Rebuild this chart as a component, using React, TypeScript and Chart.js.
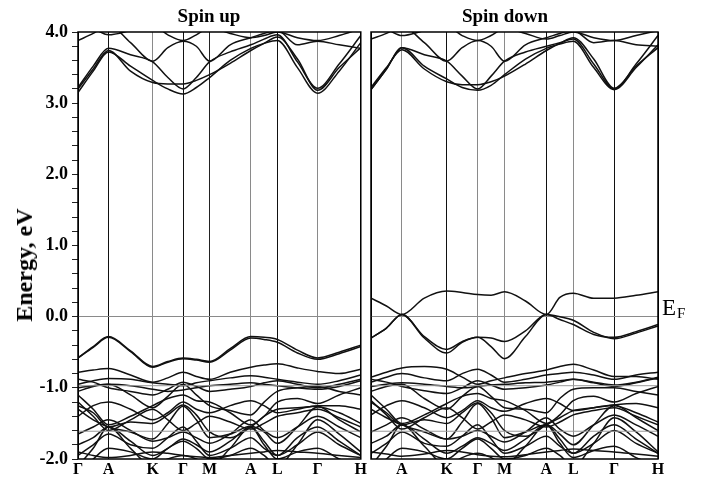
import React, { useEffect, useRef } from 'react';
import { Chart, registerables } from 'chart.js';
Chart.register(...registerables);

// k-path sample positions (path length units) and high-symmetry points
const K_SAMPLES = [0, 15.5, 31, 53.5, 76, 91.5, 107, 120.5, 134, 155, 176, 189.5, 203, 223.5, 244, 266, 288];
const K_POINTS = [0, 31, 76, 107, 134, 176, 203, 244, 288];
const LABELS_UP = ['Γ', 'A', 'K', 'Γ', 'M', 'A', 'L', 'Γ', 'H'];
const LABELS_DOWN = ['', 'A', 'K', 'Γ', 'M', 'A', 'L', 'Γ', 'H'];

// Spin up: conduction bands (eV)
const upC1 = [3.15, 3.45, 3.72, 3.52, 3.32, 3.20, 3.13, 3.22, 3.36, 3.60, 3.77, 3.84, 3.88, 3.50, 3.14, 3.45, 3.85];
const upC2 = [3.22, 3.52, 3.77, 3.68, 3.58, 3.36, 3.20, 3.36, 3.58, 3.72, 3.82, 3.90, 3.96, 3.58, 3.21, 3.55, 3.95];
const upC3 = [3.88, 3.98, 4.10, 3.85, 3.59, 3.78, 3.87, 3.80, 3.59, 3.82, 3.92, 3.98, 4.02, 3.82, 3.87, 3.82, 3.77];
const upC4 = [3.20, 3.48, 3.74, 3.45, 3.29, 3.27, 3.27, 3.32, 3.40, 3.56, 3.74, 3.84, 3.93, 3.62, 3.18, 3.50, 3.78];
const upC5 = [4.12, 4.05, 3.96, 4.02, 4.10, 3.96, 3.88, 3.96, 4.06, 3.98, 3.92, 3.95, 4.00, 3.92, 3.88, 3.95, 4.05];
// Spin up: valence bands (eV)
const upV1 = [-0.58, -0.42, -0.28, -0.48, -0.70, -0.63, -0.58, -0.60, -0.63, -0.45, -0.28, -0.29, -0.32, -0.47, -0.58, -0.50, -0.40];
const upV2 = [-0.58, -0.43, -0.29, -0.49, -0.71, -0.64, -0.59, -0.61, -0.64, -0.47, -0.30, -0.32, -0.36, -0.51, -0.60, -0.52, -0.42];
const upV3 = [-0.78, -0.75, -0.73, -0.82, -0.92, -0.86, -0.78, -0.84, -0.88, -0.78, -0.71, -0.68, -0.66, -0.72, -0.77, -0.80, -0.74];
const upV4 = [-0.95, -0.90, -0.87, -0.88, -0.93, -0.95, -0.97, -0.93, -0.90, -0.86, -0.83, -0.85, -0.88, -0.92, -0.95, -0.90, -0.82];
const upV5 = [-1.00, -0.97, -0.95, -0.97, -1.02, -1.05, -1.03, -1.00, -0.97, -0.95, -0.93, -0.95, -0.97, -1.00, -1.02, -0.98, -0.90];
const upV6 = [-1.05, -0.98, -0.95, -1.10, -1.28, -1.12, -0.95, -1.10, -1.25, -1.32, -1.38, -1.20, -1.05, -1.00, -0.98, -1.05, -1.10];
const upV7 = [-1.10, -1.30, -1.52, -1.40, -1.25, -1.15, -1.10, -1.18, -1.20, -1.35, -1.52, -1.40, -1.20, -1.15, -1.22, -1.10, -1.00];
const upV8 = [-1.40, -1.25, -1.20, -1.30, -1.45, -1.35, -1.20, -1.30, -1.35, -1.25, -1.18, -1.25, -1.35, -1.30, -1.25, -1.25, -1.30];
const upV9 = [-1.25, -1.35, -1.55, -1.48, -1.50, -1.38, -1.24, -1.38, -1.62, -1.70, -1.55, -1.40, -1.30, -1.28, -1.26, -1.45, -1.62];
const upV10 = [-1.30, -1.45, -1.55, -1.62, -1.72, -1.50, -1.26, -1.45, -1.70, -1.65, -1.54, -1.62, -1.78, -1.55, -1.27, -1.35, -1.50];
const upV11 = [-1.80, -1.70, -1.55, -1.75, -1.95, -1.85, -1.72, -1.80, -1.90, -1.75, -1.55, -1.75, -1.95, -1.80, -1.62, -1.80, -1.95];
const upV12 = [-2.10, -1.85, -1.55, -1.85, -2.10, -2.00, -1.95, -2.00, -2.10, -1.85, -1.55, -1.80, -2.00, -1.90, -1.85, -2.00, -2.10];
const upV13 = [-1.90, -1.95, -1.98, -1.95, -1.90, -1.92, -1.95, -1.97, -1.98, -1.95, -1.92, -1.90, -1.88, -1.90, -1.92, -1.95, -1.98];
const upV14 = [-2.20, -2.00, -1.85, -1.90, -2.00, -1.85, -1.75, -1.85, -2.00, -1.95, -1.85, -1.95, -2.10, -1.80, -1.45, -1.65, -1.90];
const upV15 = [-1.20, -1.40, -1.60, -1.45, -1.30, -1.45, -1.60, -1.50, -1.40, -1.48, -1.58, -1.50, -1.40, -1.35, -1.30, -1.42, -1.55];
const upV16 = [-1.65, -1.55, -1.45, -1.60, -1.75, -1.70, -1.62, -1.70, -1.78, -1.65, -1.45, -1.60, -1.70, -1.55, -1.40, -1.55, -1.70];
const upV17 = [-1.95, -1.80, -1.65, -1.80, -1.85, -1.70, -1.55, -1.75, -1.95, -1.85, -1.70, -1.85, -1.95, -1.70, -1.55, -1.75, -1.95];
const upV18 = [-0.88, -0.92, -1.00, -1.05, -1.10, -1.02, -0.92, -0.98, -1.05, -1.02, -0.98, -0.93, -0.90, -0.95, -1.00, -0.95, -0.88];

// Spin down: conduction bands (eV)
const dnC1 = [3.19, 3.48, 3.78, 3.52, 3.34, 3.22, 3.18, 3.25, 3.40, 3.62, 3.77, 3.83, 3.87, 3.50, 3.19, 3.50, 3.82];
const dnC2 = [3.19, 3.48, 3.78, 3.68, 3.59, 3.38, 3.20, 3.38, 3.59, 3.72, 3.80, 3.85, 3.90, 3.55, 3.20, 3.55, 3.95];
const dnC3 = [3.90, 3.98, 4.08, 3.85, 3.59, 3.78, 3.88, 3.80, 3.59, 3.82, 3.92, 3.98, 4.02, 3.85, 3.88, 3.82, 3.80];
const dnC4 = [3.22, 3.50, 3.75, 3.48, 3.30, 3.26, 3.26, 3.30, 3.38, 3.55, 3.74, 3.84, 3.92, 3.62, 3.21, 3.52, 3.78];
const dnC5 = [4.10, 4.04, 3.95, 4.02, 4.08, 3.95, 3.88, 3.95, 4.05, 3.98, 3.90, 3.95, 4.00, 3.92, 3.88, 3.95, 4.02];
// Spin down: valence bands (eV)
const dnV1 = [0.26, 0.15, 0.03, 0.26, 0.36, 0.34, 0.31, 0.30, 0.35, 0.22, 0.03, 0.27, 0.33, 0.26, 0.26, 0.30, 0.35];
const dnV2 = [-0.30, -0.16, 0.03, -0.28, -0.46, -0.35, -0.29, -0.42, -0.59, -0.28, 0.03, -0.04, -0.11, -0.25, -0.29, -0.21, -0.11];
const dnV3 = [-0.30, -0.16, 0.03, -0.30, -0.51, -0.36, -0.29, -0.30, -0.35, -0.20, 0.03, 0.00, -0.05, -0.22, -0.31, -0.23, -0.13];
const dnV4 = [-0.85, -0.78, -0.72, -0.70, -0.74, -0.85, -0.95, -0.90, -0.86, -0.80, -0.75, -0.70, -0.67, -0.75, -0.84, -0.84, -0.88];
const dnV5 = [-0.92, -0.85, -0.80, -0.86, -0.90, -0.80, -0.74, -0.82, -0.92, -0.88, -0.82, -0.80, -0.78, -0.82, -0.88, -0.82, -0.78];
const dnV6 = [-0.98, -0.95, -0.93, -0.95, -0.98, -1.00, -0.98, -0.96, -0.95, -0.93, -0.92, -0.90, -0.88, -0.92, -0.96, -0.92, -0.85];
const dnV7 = [-1.05, -0.98, -0.95, -1.15, -1.30, -1.12, -0.98, -1.12, -1.28, -1.30, -1.35, -1.15, -1.02, -1.00, -1.00, -1.05, -1.10];
const dnV8 = [-1.20, -1.35, -1.52, -1.45, -1.50, -1.35, -1.21, -1.35, -1.60, -1.68, -1.52, -1.42, -1.32, -1.28, -1.24, -1.42, -1.60];
const dnV9 = [-1.30, -1.42, -1.52, -1.62, -1.72, -1.48, -1.22, -1.42, -1.70, -1.62, -1.52, -1.65, -1.80, -1.52, -1.25, -1.35, -1.48];
const dnV10 = [-1.10, -1.30, -1.50, -1.38, -1.22, -1.12, -1.08, -1.15, -1.18, -1.32, -1.50, -1.38, -1.18, -1.12, -1.20, -1.08, -0.98];
const dnV11 = [-1.38, -1.25, -1.18, -1.28, -1.42, -1.32, -1.18, -1.28, -1.33, -1.22, -1.15, -1.22, -1.32, -1.28, -1.24, -1.22, -1.28];
const dnV12 = [-1.78, -1.68, -1.52, -1.72, -1.92, -1.82, -1.70, -1.78, -1.88, -1.72, -1.52, -1.72, -1.92, -1.78, -1.60, -1.78, -1.92];
const dnV13 = [-2.10, -1.82, -1.52, -1.82, -2.10, -1.98, -1.92, -1.98, -2.08, -1.82, -1.52, -1.78, -1.98, -1.88, -1.82, -1.98, -2.10];
const dnV14 = [-1.90, -1.93, -1.96, -1.93, -1.88, -1.90, -1.94, -1.96, -1.97, -1.94, -1.90, -1.88, -1.86, -1.88, -1.90, -1.93, -1.96];
const dnV15 = [-2.20, -2.00, -1.85, -1.90, -2.00, -1.85, -1.72, -1.85, -2.00, -1.95, -1.85, -1.95, -2.10, -1.78, -1.42, -1.62, -1.90];
const dnV16 = [-1.18, -1.38, -1.58, -1.42, -1.28, -1.42, -1.58, -1.48, -1.38, -1.45, -1.55, -1.48, -1.38, -1.32, -1.28, -1.40, -1.52];
const dnV17 = [-1.62, -1.52, -1.42, -1.58, -1.72, -1.68, -1.60, -1.68, -1.76, -1.62, -1.42, -1.58, -1.68, -1.52, -1.38, -1.52, -1.68];
const dnV18 = [-1.92, -1.78, -1.62, -1.78, -1.82, -1.68, -1.52, -1.72, -1.92, -1.82, -1.68, -1.82, -1.92, -1.68, -1.52, -1.72, -1.92];
const dnV19 = [-0.88, -0.92, -0.98, -1.04, -1.08, -1.00, -0.90, -0.96, -1.02, -1.00, -0.96, -0.92, -0.88, -0.93, -0.98, -0.93, -0.86];

// flat gray levels seen across both panels (eV)
const FLAT_LEVELS = [-0.97, -1.61];

const BANDS_UP = [upC1, upC2, upC3, upC4, upC5, upV1, upV2, upV3, upV4, upV5, upV6, upV7, upV8, upV9, upV10, upV11, upV12, upV13, upV14, upV15, upV16, upV17, upV18];
const BANDS_DOWN = [dnC1, dnC2, dnC3, dnC4, dnC5, dnV1, dnV2, dnV3, dnV4, dnV5, dnV6, dnV7, dnV8, dnV9, dnV10, dnV11, dnV12, dnV13, dnV14, dnV15, dnV16, dnV17, dnV18, dnV19];

const LINE_COLORS_UP = ['#000', '#111', '#8a8a8a', '#111', '#222', '#8a8a8a', '#111', '#8a8a8a', '#000'];
const LINE_COLORS_DOWN = ['#000', '#8a8a8a', '#111', '#8a8a8a', '#8a8a8a', '#111', '#8a8a8a', '#111', '#000'];

const SERIF = '"Liberation Serif", "Times New Roman", Times, serif';

const framePlugin = {
  id: 'frame',
  afterDatasetsDraw(chart: any) {
    const { ctx, chartArea } = chart;
    ctx.save();
    ctx.strokeStyle = '#000';
    ctx.lineWidth = 1.5;
    ctx.strokeRect(chartArea.left, chartArea.top, chartArea.right - chartArea.left, chartArea.bottom - chartArea.top);
    ctx.restore();
  },
};

type PanelProps = {
  bands: number[][];
  labels: string[];
  lineColors: string[];
  showY: boolean;
  left: number;
  width: number;
  padLeft: number;
  padRight: number;
  yWidth: number;
};

function Panel(p: PanelProps) {
  const ref = useRef<HTMLCanvasElement | null>(null);
  useEffect(() => {
    if (!ref.current) return;
    const datasets: any[] = [];
    FLAT_LEVELS.forEach((lv) => {
      datasets.push({
        data: [{ x: 0, y: lv }, { x: 288, y: lv }],
        borderColor: '#9a9a9a',
        borderWidth: 1,
        pointRadius: 0,
        fill: false,
      });
    });
    p.bands.forEach((b) => {
      datasets.push({
        data: K_SAMPLES.map((x, i) => ({ x, y: b[i] })),
        borderColor: '#111',
        borderWidth: 1.5,
        pointRadius: 0,
        fill: false,
        cubicInterpolationMode: 'monotone',
      });
    });
    const chart = new Chart(ref.current, {
      type: 'line',
      data: { datasets },
      options: {
        responsive: false,
        animation: false,
        events: [],
        layout: { padding: { left: p.padLeft, right: p.padRight, top: 32, bottom: 0 } },
        plugins: { legend: { display: false }, tooltip: { enabled: false }, title: { display: false } },
        scales: {
          x: {
            type: 'linear',
            min: 0,
            max: 288,
            afterBuildTicks: (s: any) => {
              s.ticks = K_POINTS.map((v) => ({ value: v }));
            },
            afterFit: (s: any) => {
              s.height = 18;
            },
            ticks: {
              autoSkip: false,
              maxRotation: 0,
              padding: 1,
              color: '#000',
              font: { family: SERIF, size: 16, weight: 'bold' },
              callback: (_v: any, i: number) => p.labels[i],
            },
            grid: {
              color: (c: any) => p.lineColors[c.index] ?? '#333',
              lineWidth: 1,
              drawTicks: false,
            },
            border: { display: false },
          },
          y: {
            type: 'linear',
            min: -2,
            max: 4,
            afterFit: (s: any) => {
              s.width = p.yWidth;
            },
            ticks: {
              display: p.showY,
              stepSize: 0.2,
              autoSkip: false,
              padding: 4,
              color: '#000',
              font: { family: SERIF, size: 18, weight: 'bold' },
              callback: (v: any) => {
                const n = Number(v);
                return Math.abs(n - Math.round(n)) < 1e-6 ? n.toFixed(1) : '';
              },
            },
            grid: {
              color: (c: any) => (c.tick && Math.abs(c.tick.value) < 1e-6 ? '#8a8a8a' : 'rgba(0,0,0,0)'),
              tickColor: '#222',
              tickLength: 6,
              drawTicks: p.showY,
              lineWidth: 1,
            },
            border: { display: false },
          },
        },
      } as any,
      plugins: [framePlugin],
    });
    return () => chart.destroy();
  }, []);
  return (
    <canvas
      ref={ref}
      width={p.width}
      height={477}
      style={{ position: 'absolute', left: p.left, top: 0, width: p.width, height: 477 }}
    />
  );
}

export default function App() {
  return (
    <div style={{ position: 'fixed', left: 0, top: 0, width: 710, height: 477, background: '#fff', overflow: 'hidden', fontFamily: SERIF }}>
      <Panel bands={BANDS_UP} labels={LABELS_UP} lineColors={LINE_COLORS_UP} showY={true} left={0} width={368} padLeft={0} padRight={2} yWidth={78} />
      <Panel bands={BANDS_DOWN} labels={LABELS_DOWN} lineColors={LINE_COLORS_DOWN} showY={false} left={369} width={341} padLeft={2} padRight={52} yWidth={0} />
      <div style={{ position: 'absolute', left: 209, top: 6, transform: 'translateX(-50%)', fontSize: 19, lineHeight: '19px', fontWeight: 'bold', whiteSpace: 'nowrap', color: '#000' }}>Spin up</div>
      <div style={{ position: 'absolute', left: 505, top: 6, transform: 'translateX(-50%)', fontSize: 19, lineHeight: '19px', fontWeight: 'bold', whiteSpace: 'nowrap', color: '#000' }}>Spin down</div>
      <div style={{ position: 'absolute', left: 24, top: 265, transform: 'translate(-50%, -50%) rotate(-90deg)', fontSize: 24, lineHeight: '24px', fontWeight: 'bold', whiteSpace: 'nowrap', color: '#000' }}>Energy, eV</div>
      <div style={{ position: 'absolute', left: 662, top: 296, fontSize: 23, lineHeight: '23px', whiteSpace: 'nowrap', color: '#000' }}>
        E<span style={{ fontSize: 15, position: 'relative', top: 3, marginLeft: 1 }}>F</span>
      </div>
    </div>
  );
}
